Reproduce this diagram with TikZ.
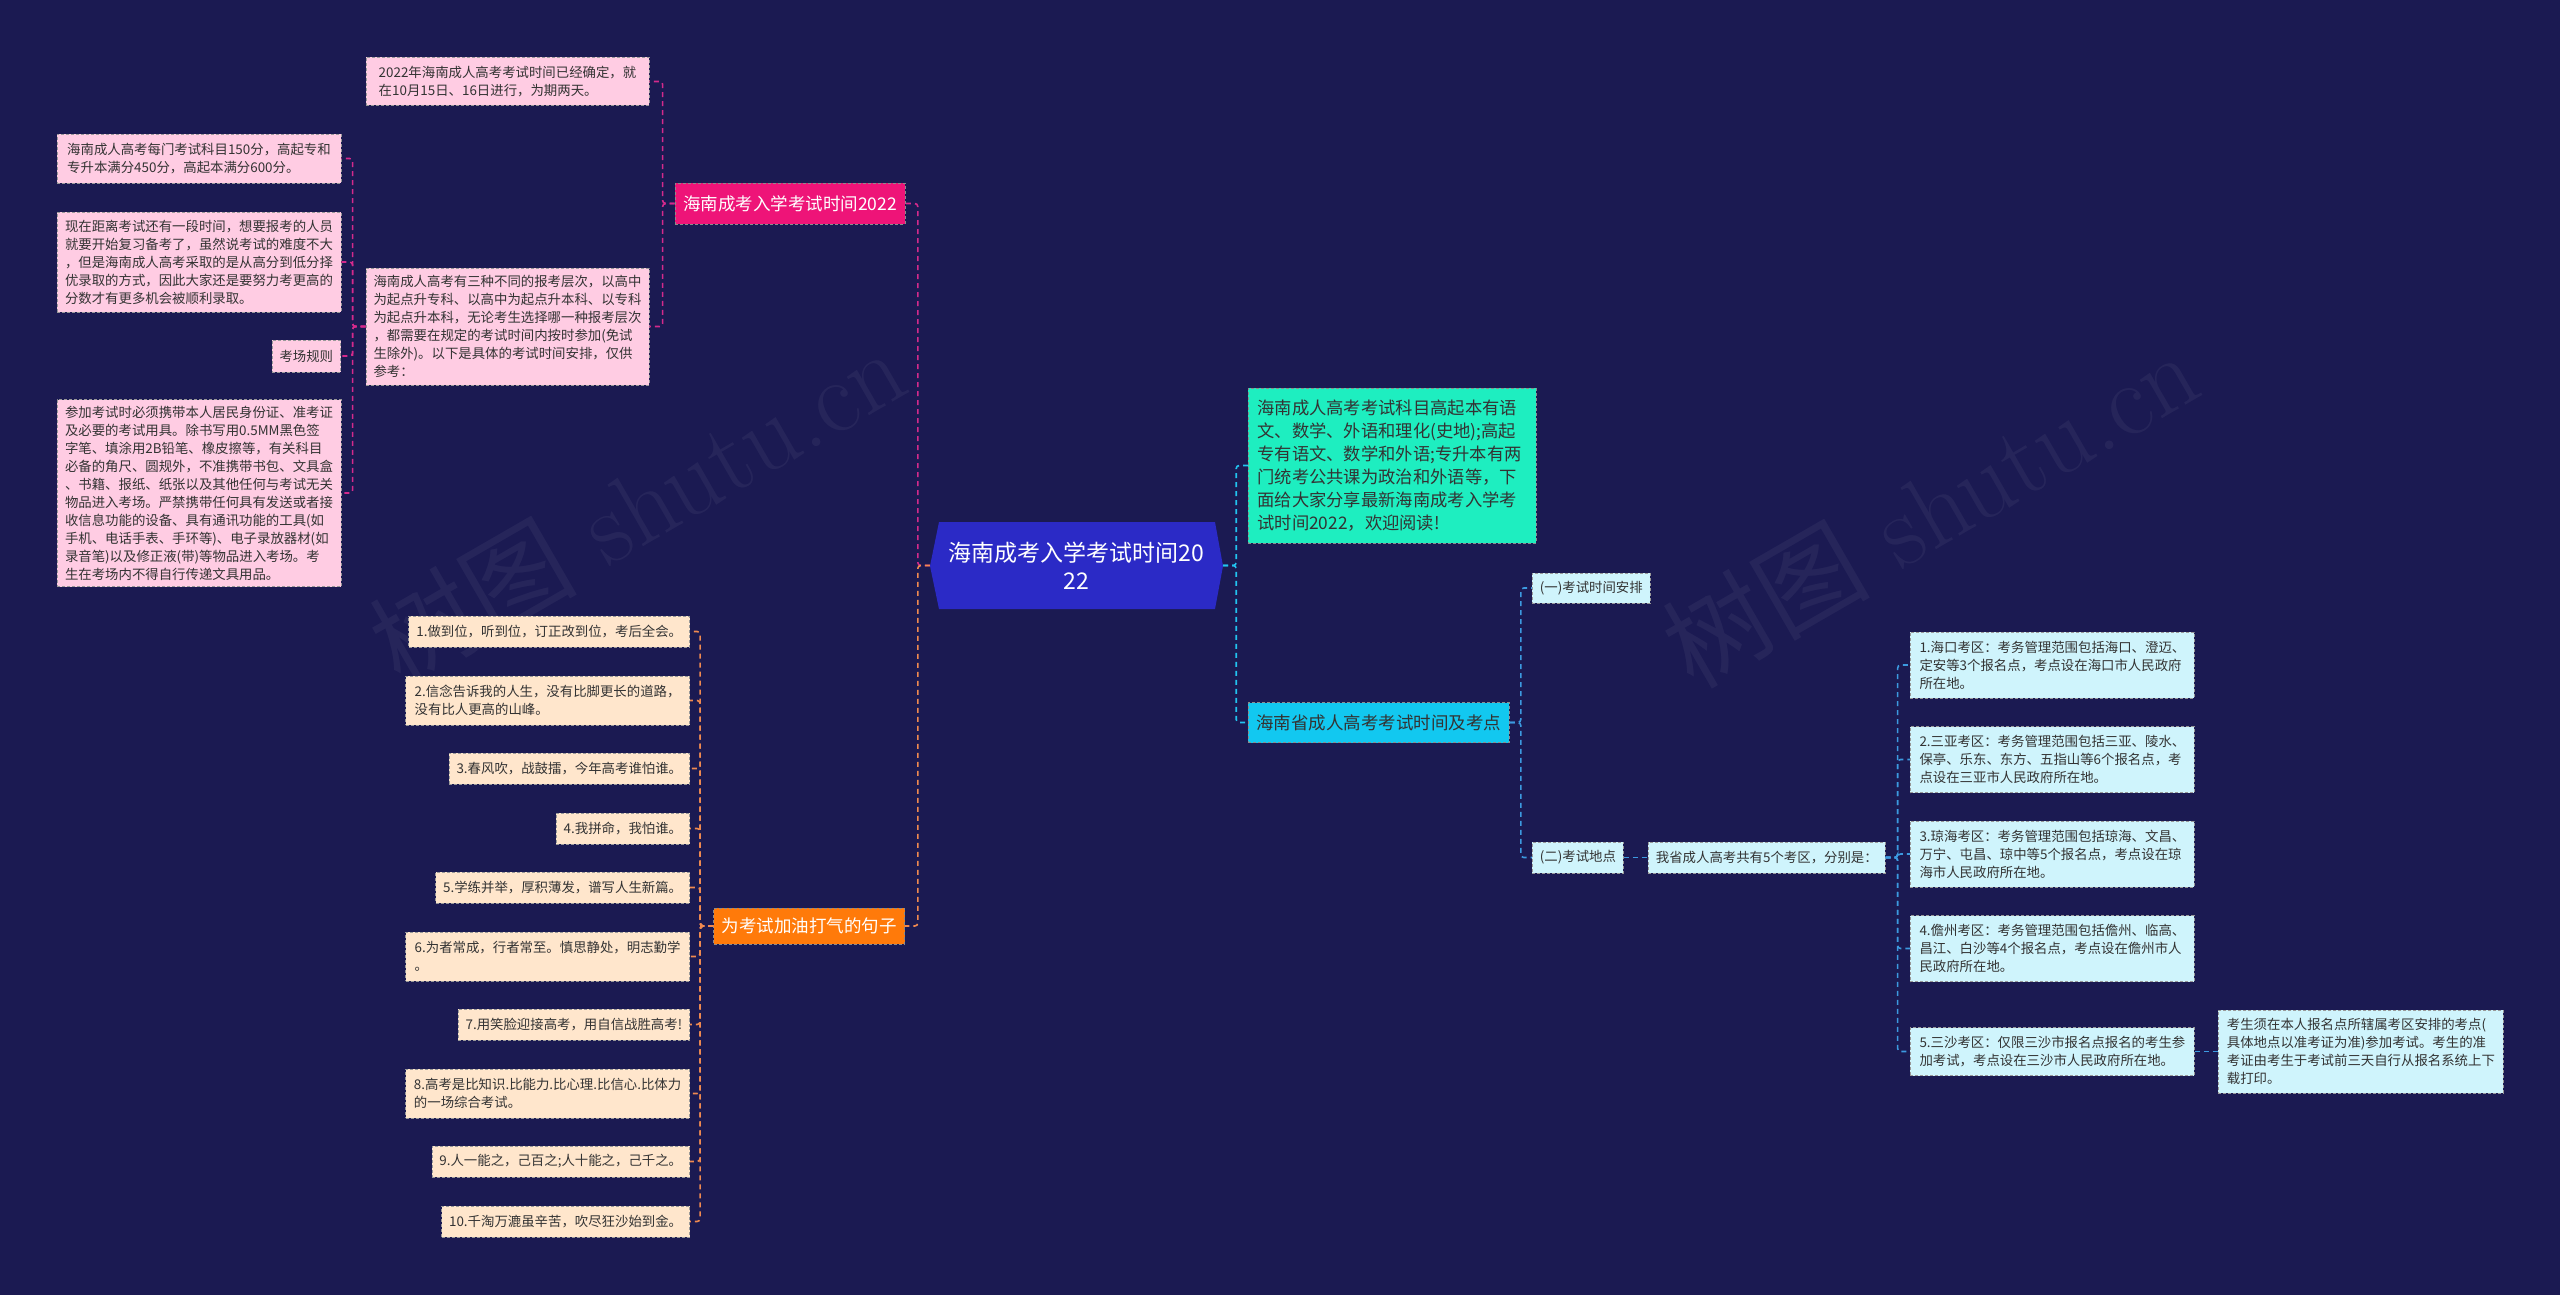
\documentclass[tikz,border=0pt]{standalone}
\usepackage{fontspec}
\usepackage{tikz}
\usepackage{xcolor}
\newfontfamily\cjk{Noto Sans CJK SC}

\definecolor{bgnavy}{HTML}{1B1A52}
\definecolor{hubblue}{HTML}{2B2AC6}
\definecolor{pinktopic}{HTML}{EE1478}
\definecolor{orangetopic}{HTML}{FF7A0A}
\definecolor{cyantopic}{HTML}{12C8F0}
\definecolor{mintgreen}{HTML}{1EEEC0}
\definecolor{pinkfill}{HTML}{FFCCE3}
\definecolor{peachfill}{HTML}{FFE6CC}
\definecolor{icefill}{HTML}{CFF4FC}
\definecolor{leaftext}{HTML}{333333}
\definecolor{pinkline}{HTML}{D42A8C}
\definecolor{orangeline}{HTML}{F08A50}
\definecolor{cyanline}{HTML}{22C4F0}
\definecolor{blueline}{HTML}{3C9AE0}

\tikzset{
  leaf/.style={draw=black!40, dash pattern=on 3pt off 2pt, line width=0.8pt,
    text=leaftext, align=left, inner xsep=7.5pt, inner ysep=3pt,
    font=\cjk\fontsize{13.4}{18}\selectfont},
  pinkleaf/.style={leaf, fill=pinkfill},
  peachleaf/.style={leaf, fill=peachfill, anchor=east},
  iceleaf/.style={leaf, fill=icefill, anchor=west},
  topic/.style={draw=black!45, dash pattern=on 3pt off 2pt, line width=0.8pt,
    inner xsep=8pt, inner ysep=3pt, minimum height=40,
    font=\cjk\fontsize{17.5}{22}\selectfont},
  hubtext/.style={minimum width=293, minimum height=87, inner sep=0pt,
    text=white, align=center, font=\cjk\fontsize{23}{28}\selectfont},
  link/.style={line width=1.6pt, dash pattern=on 5pt off 4pt, rounded corners=3pt},
  pinklink/.style={link, draw=pinkline},
  orangelink/.style={link, draw=orangeline},
  cyanlink/.style={link, draw=cyanline},
  bluelink/.style={link, draw=blueline},
  wmtext/.style={text=white, text opacity=0.05, rotate=30,
    font=\fontsize{104}{104}\selectfont}
}

\begin{document}
\begin{tikzpicture}[x=1pt, y=-1pt]
  % Background
  \fill[bgnavy] (0,0) rectangle (2560,1295);
  \useasboundingbox (0,0) rectangle (2560,1295);

  % Watermarks
  \node[wmtext] (wmleft) at (637,505) {{\cjk 树图} shutu.cn};
  \node[wmtext] (wmright) at (1930,508) {{\cjk 树图} shutu.cn};

  % Central node
  \fill[hubblue] (930,566) -- (939,522) -- (1215,522) -- (1223,566) -- (1215,609) -- (939,609) -- cycle;
  \node[hubtext] (hub) at (1076.5,565.5) {海南成考入学考试时间20\\22};

  % Pink branch
  \node[topic, fill=pinktopic, text=white, minimum height=41] (ptopic) at (790,203.5) {海南成考入学考试时间2022};
  \node[pinkleaf, minimum width=283, minimum height=48] (pdate) at (507.5,81.5)
    {2022年海南成人高考考试时间已经确定，就\\在10月15日、16日进行，为期两天。};
  \node[pinkleaf, minimum width=283, minimum height=117] (plevel) at (507.5,326.5)
    {海南成人高考有三种不同的报考层次，以高中\\为起点升专科、以高中为起点升本科、以专科\\为起点升本科，无论考生选择哪一种报考层次\\，都需要在规定的考试时间内按时参加(免试\\生除外)。以下是具体的考试时间安排，仅供\\参考：};
  \node[pinkleaf, minimum width=284, minimum height=49] (pscore) at (199,158.5)
    {海南成人高考每门考试科目150分，高起专和\\专升本满分450分，高起本满分600分。};
  \node[pinkleaf, minimum width=284, minimum height=100] (pprep) at (199,262)
    {现在距离考试还有一段时间，想要报考的人员\\就要开始复习备考了，虽然说考试的难度不大\\，但是海南成人高考采取的是从高分到低分择\\优录取的方式，因此大家还是要努力考更高的\\分数才有更多机会被顺利录取。};
  \node[pinkleaf, anchor=east, minimum height=32] (prule) at (341,356) {考场规则};
  \node[pinkleaf, minimum width=284, minimum height=187] (ptools) at (199,493)
    {参加考试时必须携带本人居民身份证、准考证\\及必要的考试用具。除书写用0.5MM黑色签\\字笔、填涂用2B铅笔、橡皮擦等，有关科目\\必备的角尺、圆规外，不准携带书包、文具盒\\、书籍、报纸、纸张以及其他任何与考试无关\\物品进入考场。严禁携带任何具有发送或者接\\收信息功能的设备、具有通讯功能的工具(如\\手机、电话手表、手环等)、电子录放器材(如\\录音笔)以及修正液(带)等物品进入考场。考\\生在考场内不得自行传递文具用品。};

  \draw[pinklink] (hub.west) -- ++(-12,0) |- (ptopic.east);
  \draw[pinklink] (ptopic.west) -- ++(-12,0) |- (pdate.east);
  \draw[pinklink] (ptopic.west) -- ++(-12,0) |- (plevel.east);
  \foreach \n in {pscore,pprep,prule,ptools}
    \draw[pinklink] (plevel.west) -- ++(-13,0) |- (\n.east);

  % Orange branch
  \node[topic, fill=orangetopic, text=white, minimum height=36] (otopic) at (809,926) {为考试加油打气的句子};
  \node[peachleaf, minimum height=31] (o1) at (690,631.5) {1.做到位，听到位，订正改到位，考后全会。};
  \node[peachleaf, minimum width=284, minimum height=49] (o2) at (690,700.5) {2.信念告诉我的人生，没有比脚更长的道路，\\没有比人更高的山峰。};
  \node[peachleaf, minimum height=31] (o3) at (690,768.5) {3.春风吹，战鼓擂，今年高考谁怕谁。};
  \node[peachleaf, minimum height=31] (o4) at (690,828.5) {4.我拼命，我怕谁。};
  \node[peachleaf, minimum height=31] (o5) at (690,887.5) {5.学练并举，厚积薄发，谱写人生新篇。};
  \node[peachleaf, minimum width=284, minimum height=49] (o6) at (690,956.5) {6.为者常成，行者常至。慎思静处，明志勤学\\。};
  \node[peachleaf, minimum height=31] (o7) at (690,1024.5) {7.用笑脸迎接高考，用自信战胜高考!};
  \node[peachleaf, minimum width=284, minimum height=49] (o8) at (690,1093.5) {8.高考是比知识.比能力.比心理.比信心.比体力\\的一场综合考试。};
  \node[peachleaf, minimum height=31] (o9) at (690,1161.5) {9.人一能之，己百之;人十能之，己千之。};
  \node[peachleaf, minimum height=31] (o10) at (690,1221.5) {10.千淘万漉虽辛苦，吹尽狂沙始到金。};

  \draw[orangelink] (hub.west) -- ++(-12,0) |- (otopic.east);
  \foreach \i in {1,...,10}
    \draw[orangelink] (otopic.west) -- ++(-13,0) |- (o\i.east);

  % Right branch
  \node[topic, fill=mintgreen, text=leaftext, anchor=west, text width=270, align=left, inner xsep=9pt,
    minimum height=155, font=\cjk\fontsize{17.3}{23}\selectfont] (intro) at (1248,465.5)
    {海南成人高考考试科目高起本有语\\文、数学、外语和理化(史地);高起\\专有语文、数学和外语;专升本有两\\门统考公共课为政治和外语等，下\\面给大家分享最新海南成考入学考\\试时间2022，欢迎阅读!};
  \node[topic, fill=cyantopic, text=leaftext, anchor=west] (ctopic) at (1248,722.5) {海南省成人高考考试时间及考点};
  \node[iceleaf, minimum height=30] (csched) at (1532,588) {(一)考试时间安排};
  \node[iceleaf, minimum height=31] (cplace) at (1532,857.5) {(二)考试地点};
  \node[iceleaf, minimum height=31] (carea) at (1648,857.5) {我省成人高考共有5个考区，分别是：};
  \node[iceleaf, minimum width=284, minimum height=66] (z1) at (1910,665)
    {1.海口考区：考务管理范围包括海口、澄迈、\\定安等3个报名点，考点设在海口市人民政府\\所在地。};
  \node[iceleaf, minimum width=284, minimum height=66] (z2) at (1910,759.5)
    {2.三亚考区：考务管理范围包括三亚、陵水、\\保亭、乐东、东方、五指山等6个报名点，考\\点设在三亚市人民政府所在地。};
  \node[iceleaf, minimum width=284, minimum height=66] (z3) at (1910,854)
    {3.琼海考区：考务管理范围包括琼海、文昌、\\万宁、屯昌、琼中等5个报名点，考点设在琼\\海市人民政府所在地。};
  \node[iceleaf, minimum width=284, minimum height=66] (z4) at (1910,948.5)
    {4.儋州考区：考务管理范围包括儋州、临高、\\昌江、白沙等4个报名点，考点设在儋州市人\\民政府所在地。};
  \node[iceleaf, minimum width=284, minimum height=48] (z5) at (1910,1051.5)
    {5.三沙考区：仅限三沙市报名点报名的考生参\\加考试，考点设在三沙市人民政府所在地。};
  \node[iceleaf, minimum width=285, minimum height=83] (zcard) at (2218,1051.5)
    {考生须在本人报名点所辖属考区安排的考点(\\具体地点以准考证为准)参加考试。考生的准\\考证由考生于考试前三天自行从报名系统上下\\载打印。};

  \draw[cyanlink] (hub.east) -- ++(13,0) |- (intro.west);
  \draw[cyanlink] (hub.east) -- ++(13,0) |- (ctopic.west);
  \draw[bluelink] (ctopic.east) -- ++(11,0) |- (csched.west);
  \draw[bluelink] (ctopic.east) -- ++(11,0) |- (cplace.west);
  \draw[bluelink] (cplace) -- (carea);
  \foreach \i in {1,...,5}
    \draw[bluelink] (carea.east) -- ++(12,0) |- (z\i.west);
  \draw[bluelink] (z5) -- (zcard);
\end{tikzpicture}
\end{document}
